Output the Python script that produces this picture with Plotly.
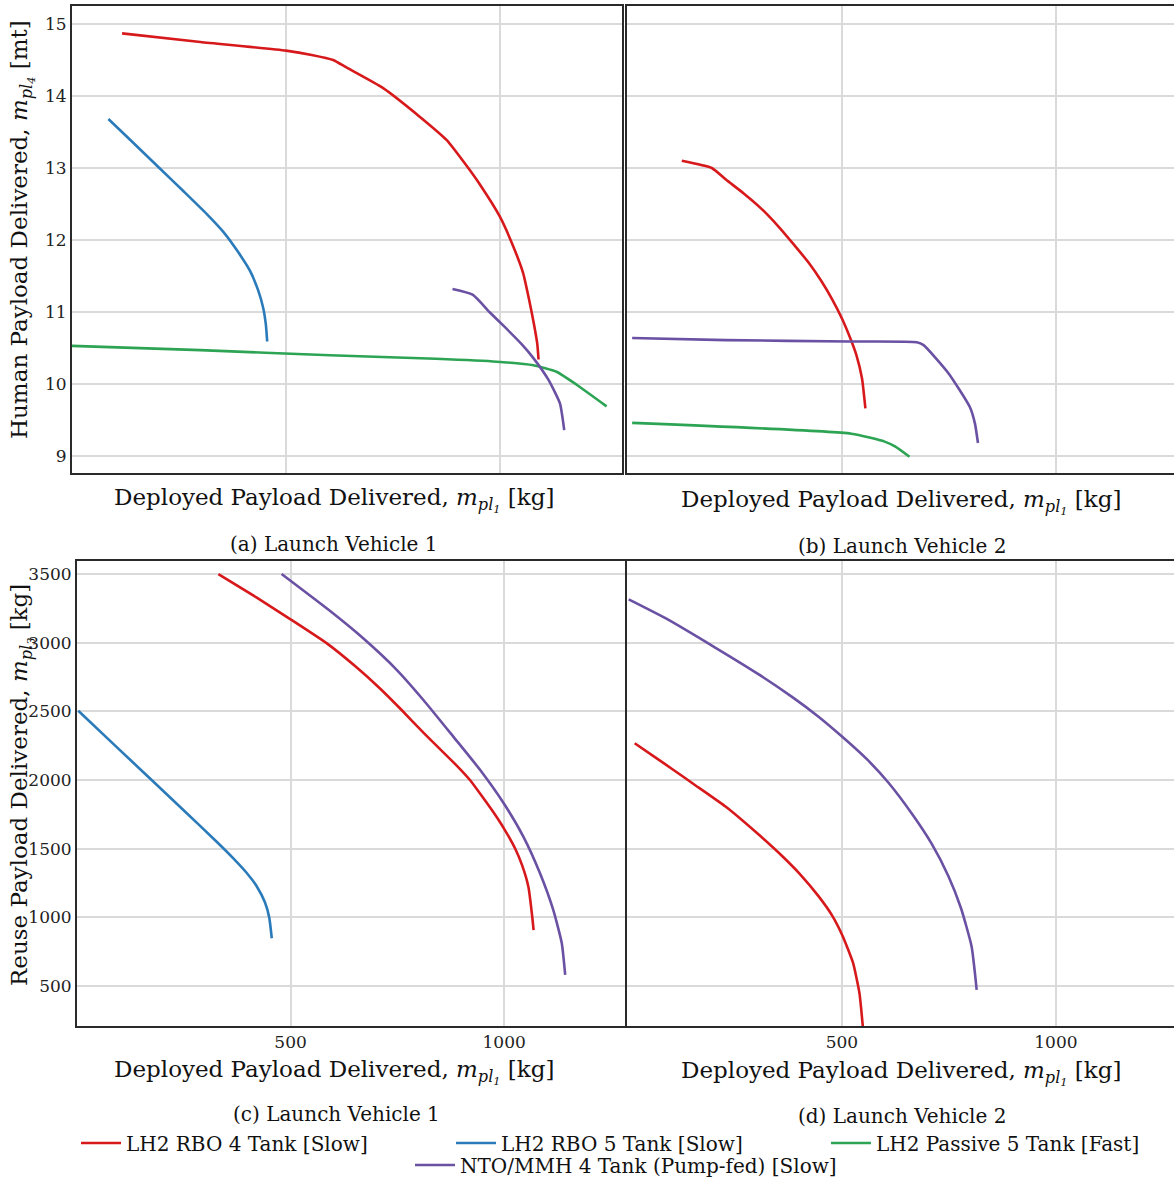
import plotly.graph_objects as go

# ---------------- data ----------------
# Panel (a): Launch Vehicle 1, human payload [mt] vs deployed payload [kg]
a_red_x = [117, 300, 500, 560, 610, 640, 727, 813, 875, 922, 953, 1000, 1031, 1054, 1068, 1079, 1087, 1090]
a_red_y = [14.87, 14.75, 14.63, 14.57, 14.50, 14.40, 14.11, 13.71, 13.39, 13.03, 12.77, 12.32, 11.91, 11.54, 11.17, 10.84, 10.56, 10.34]
a_blue_x = [85, 143, 206, 260, 315, 354, 385, 416, 435, 447, 453, 456]
a_blue_y = [13.68, 13.35, 12.99, 12.68, 12.36, 12.11, 11.86, 11.57, 11.30, 11.05, 10.82, 10.59]
a_green_x = [0, 300, 603, 850, 992, 1078, 1132, 1179, 1249]
a_green_y = [10.53, 10.47, 10.40, 10.35, 10.31, 10.26, 10.17, 9.99, 9.69]
a_purple_x = [889, 936, 977, 1008, 1051, 1078, 1113, 1140, 1150]
a_purple_y = [11.32, 11.24, 10.99, 10.81, 10.55, 10.36, 10.06, 9.73, 9.36]

# Panel (b): Launch Vehicle 2, human payload
b_red_x = [126, 196, 229, 270, 311, 353, 386, 423, 452, 477, 501, 522, 534, 547, 555]
b_red_y = [13.10, 13.00, 12.84, 12.65, 12.44, 12.18, 11.95, 11.68, 11.43, 11.18, 10.90, 10.60, 10.40, 10.08, 9.66]
b_purple_x = [10, 229, 518, 675, 691, 749, 799, 811, 818]
b_purple_y = [10.64, 10.61, 10.59, 10.58, 10.54, 10.15, 9.68, 9.45, 9.18]
b_green_x = [10, 522, 600, 625, 658]
b_green_y = [9.46, 9.31, 9.20, 9.13, 8.99]

# Panel (c): Launch Vehicle 1, reuse payload [kg]
c_blue_x = [3, 93, 171, 249, 327, 366, 397, 421, 440, 450, 456]
c_blue_y = [2505, 2240, 2011, 1782, 1551, 1430, 1325, 1225, 1110, 1000, 848]
c_red_x = [331, 420, 500, 585, 651, 710, 760, 811, 850, 889, 920, 944, 975, 999, 1026, 1042, 1057, 1066, 1069]
c_red_y = [3500, 3330, 3170, 2995, 2830, 2665, 2510, 2345, 2225, 2105, 2000, 1900, 1765, 1650, 1500, 1380, 1220, 1000, 908]
c_purple_x = [479, 592, 670, 749, 811, 881, 944, 999, 1045, 1084, 1115, 1135, 1143]
c_purple_y = [3500, 3232, 3032, 2801, 2583, 2316, 2073, 1831, 1588, 1321, 1054, 812, 581]

# Panel (d): Launch Vehicle 2, reuse payload
d_purple_x = [2, 89, 204, 303, 386, 444, 501, 559, 609, 667, 709, 749, 778, 803, 815]
d_purple_y = [3316, 3177, 2965, 2775, 2600, 2465, 2315, 2150, 1980, 1740, 1540, 1300, 1070, 790, 472]
d_red_x = [16, 64, 105, 155, 229, 303, 361, 402, 444, 477, 501, 526, 541, 549]
d_red_y = [2268, 2165, 2077, 1968, 1805, 1610, 1445, 1315, 1160, 1015, 870, 670, 450, 205]

series_names = ["LH2 RBO 4 Tank [Slow]", "LH2 RBO 5 Tank [Slow]",
                "LH2 Passive 5 Tank [Fast]", "NTO/MMH 4 Tank (Pump-fed) [Slow]"]
top_yticks = [9, 10, 11, 12, 13, 14, 15]
bottom_yticks = [500, 1000, 1500, 2000, 2500, 3000, 3500]
xticks = [500, 1000]
captions = ["(a) Launch Vehicle 1", "(b) Launch Vehicle 2", "(c) Launch Vehicle 1", "(d) Launch Vehicle 2"]

# ---------------- styling ----------------
RED, BLUE, GREEN, PURPLE = "#d7191c", "#2b7bba", "#2ca453", "#6a51a3"
colors = {series_names[0]: RED, series_names[1]: BLUE, series_names[2]: GREEN, series_names[3]: PURPLE}
leg_widths = {series_names[0]: 320, series_names[1]: 320, series_names[2]: 265, series_names[3]: None}
FONT = "DejaVu Serif"
W, H = 1174, 1180

def px(x):
    return x / W

def py(y):
    return 1 - y / H

fig = go.Figure()

def add(xs, ys, name, xa, ya, show):
    fig.add_trace(go.Scatter(
        x=xs, y=ys, mode="lines", name=name, legendgroup=name,
        showlegend=show, xaxis=xa, yaxis=ya,
        line=dict(color=colors[name], width=2.6, shape="spline", smoothing=0.5),
        legend="legend2" if name == series_names[3] else "legend",
        legendwidth=leg_widths[name],
    ))

add(a_red_x, a_red_y, series_names[0], "x", "y", True)
add(a_blue_x, a_blue_y, series_names[1], "x", "y", True)
add(a_green_x, a_green_y, series_names[2], "x", "y", True)
add(a_purple_x, a_purple_y, series_names[3], "x", "y", True)

add(b_red_x, b_red_y, series_names[0], "x2", "y2", False)
add(b_purple_x, b_purple_y, series_names[3], "x2", "y2", False)
add(b_green_x, b_green_y, series_names[2], "x2", "y2", False)

add(c_blue_x, c_blue_y, series_names[1], "x3", "y3", False)
add(c_red_x, c_red_y, series_names[0], "x3", "y3", False)
add(c_purple_x, c_purple_y, series_names[3], "x3", "y3", False)

add(d_purple_x, d_purple_y, series_names[3], "x4", "y4", False)
add(d_red_x, d_red_y, series_names[0], "x4", "y4", False)

GRID = "#dadada"
LINE = "#2a2a2a"
tickfont = dict(family=FONT, size=17, color="#222")

def xaxis(domain, rng, labels, anchor):
    return dict(domain=domain, range=rng, anchor=anchor, tickvals=xticks,
                showticklabels=labels, ticks="", showgrid=True, gridcolor=GRID,
                gridwidth=1.5, zeroline=False, showline=True, mirror=True,
                linecolor=LINE, linewidth=2, tickfont=tickfont)

def yaxis(domain, rng, ticks, labels, anchor, mirror=True):
    return dict(domain=domain, range=rng, anchor=anchor, tickvals=ticks,
                showticklabels=labels, ticks="", showgrid=True, gridcolor=GRID,
                gridwidth=1.5, zeroline=False, showline=True, mirror=mirror,
                linecolor=LINE, linewidth=2, tickfont=tickfont)

top_dom = [py(473), py(6)]
bot_dom = [py(1026), py(561)]
top_rng = [8.764, 15.25]
bot_rng = [209, 3595]

fig.update_layout(
    xaxis=xaxis([px(72), px(622)], [0, 1285], False, "y"),
    yaxis=yaxis(top_dom, top_rng, top_yticks, True, "x"),
    xaxis2=xaxis([px(627), 1.0], [-2, 1276], False, "y2"),
    yaxis2=yaxis(top_dom, top_rng, top_yticks, False, "x2", mirror=False),
    xaxis3=xaxis([px(77), px(625)], [0, 1283], True, "y3"),
    yaxis3=yaxis(bot_dom, bot_rng, bottom_yticks, True, "x3"),
    xaxis4=xaxis([px(627), 1.0], [-2, 1276], True, "y4"),
    yaxis4=yaxis(bot_dom, bot_rng, bottom_yticks, False, "x4", mirror=False),
)

xtitle = "Deployed Payload Delivered, <i>m<sub>pl<sub>1</sub></sub></i> [kg]"
ann = []
def text(x, y, s, size, angle=0):
    ann.append(dict(x=px(x), y=py(y), xref="paper", yref="paper", text=s,
                    showarrow=False, textangle=angle, xanchor="center", yanchor="middle",
                    font=dict(family=FONT, size=size, color="#111")))

text(334, 500, xtitle, 23)
text(901, 502, xtitle, 23)
text(334, 1072, xtitle, 23)
text(901, 1073, xtitle, 23)
text(334, 544, captions[0], 20)
text(902, 546, captions[1], 20)
text(336, 1114, captions[2], 20)
text(902, 1116, captions[3], 20)
text(22, 230, "Human Payload Delivered, <i>m<sub>pl<sub>4</sub></sub></i> [mt]", 23, -90)
text(22, 785, "Reuse Payload Delivered, <i>m<sub>pl<sub>3</sub></sub></i> [kg]", 23, -90)

fig.update_layout(
    width=W, height=H,
    margin=dict(l=0, r=0, t=0, b=0, autoexpand=False),
    paper_bgcolor="white", plot_bgcolor="white",
    annotations=ann,
    legend=dict(orientation="h", x=px(76), xanchor="left", y=py(1143), yanchor="middle",
                itemwidth=40, bgcolor="rgba(0,0,0,0)",
                font=dict(family=FONT, size=20, color="#111")),
    legend2=dict(orientation="h", x=px(410), xanchor="left", y=py(1165), yanchor="middle",
                 itemwidth=40, bgcolor="rgba(0,0,0,0)",
                 font=dict(family=FONT, size=20, color="#111")),
)

fig.write_html("out.html")
